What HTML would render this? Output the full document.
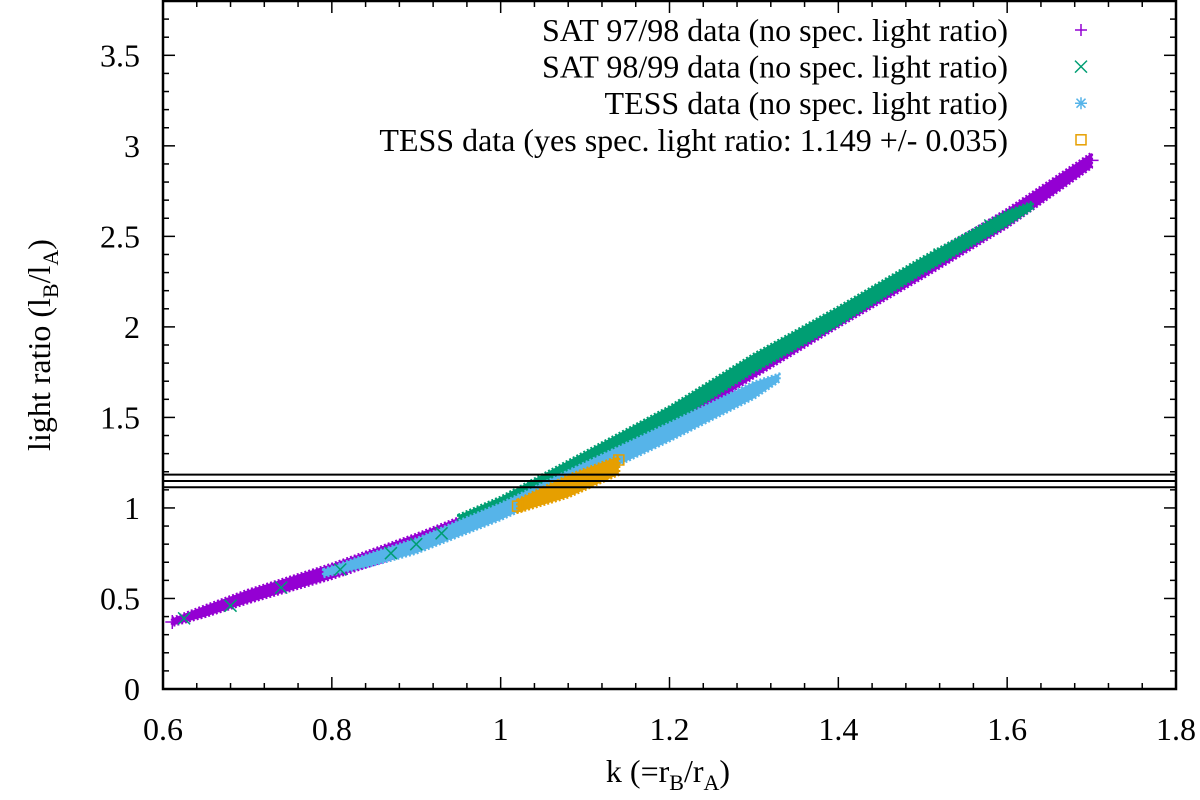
<!DOCTYPE html>
<html><head><meta charset="utf-8"><style>
html,body{margin:0;padding:0;background:#fff;}
svg{display:block;}
svg text{font-family:"Liberation Serif","Times New Roman",Times,"Nimbus Roman","DejaVu Serif","Noto Serif CJK SC",serif;}
</style></head><body>
<svg id="chart" width="1200" height="800" viewBox="0 0 1200 800">
<g id="bands"></g>
<g id="hlines"></g>
<g id="axes"></g>
<g id="legend"></g>
<text x="668" y="782" font-size="32" text-anchor="middle">k (=r<tspan font-size="22" dy="8">B</tspan><tspan dy="-8">/r</tspan><tspan font-size="22" dy="8">A</tspan><tspan dy="-8">)</tspan></text>
<text transform="translate(50,345) rotate(-90)" font-size="32" text-anchor="middle">light ratio (l<tspan font-size="22" dy="8">B</tspan><tspan dy="-8">/l</tspan><tspan font-size="22" dy="8">A</tspan><tspan dy="-8">)</tspan></text>
</svg>
<script>
// ---- data ----
const xTicks = [0.6, 0.8, 1.0, 1.2, 1.4, 1.6, 1.8];
const xTickLabels = ["0.6","0.8","1","1.2","1.4","1.6","1.8"];
const yTicks = [0, 0.5, 1, 1.5, 2, 2.5, 3, 3.5];
const yTickLabels = ["0","0.5","1","1.5","2","2.5","3","3.5"];
const specRatio = [1.114, 1.149, 1.184];

const satA_k = [0.611, 0.65, 0.7, 0.8, 0.9, 1.0, 1.1, 1.2, 1.3, 1.4, 1.5, 1.6, 1.7];
const satA_v = [0.37, 0.43, 0.51, 0.65, 0.81, 0.99, 1.22, 1.48, 1.77, 2.05, 2.32, 2.6, 2.92];
const satA_w = [0.02, 0.03, 0.035, 0.04, 0.045, 0.045, 0.045, 0.045, 0.05, 0.05, 0.05, 0.05, 0.04];

const satB_k = [0.95, 1.0, 1.1, 1.2, 1.3, 1.4, 1.5, 1.6, 1.63];
const satB_v = [0.93, 1.02, 1.26, 1.51, 1.8, 2.06, 2.34, 2.6, 2.67];
const satB_w = [0.03, 0.04, 0.05, 0.05, 0.05, 0.05, 0.045, 0.04, 0.02];
const satB_markK = [0.625, 0.68, 0.74, 0.81, 0.87, 0.9, 0.93, 1.45, 1.52, 1.58];
const satB_markV = [0.39, 0.46, 0.56, 0.66, 0.75, 0.8, 0.86, 2.2, 2.4, 2.56];

const tess_k = [0.79, 0.85, 0.9, 1.0, 1.1, 1.2, 1.3, 1.33];
const tess_v = [0.64, 0.72, 0.79, 0.98, 1.2, 1.42, 1.65, 1.72];
const tess_w = [0.02, 0.035, 0.04, 0.045, 0.05, 0.05, 0.045, 0.02];

const tessY_k = [1.02, 1.08, 1.14];
const tessY_v = [1.01, 1.12, 1.235];
const tessY_w = [0.035, 0.06, 0.05];

// ---- scales ----
const L=163, R=1176, T=1, B=689, XMIN=0.6, XMAX=1.8, YMIN=0, YMAX=3.8;
const X = k => L + (k - XMIN) / (XMAX - XMIN) * (R - L);
const Y = v => B - (v - YMIN) / (YMAX - YMIN) * (B - T);
const NS = "http://www.w3.org/2000/svg";
function mk(tag, attrs, parent){ const e=document.createElementNS(NS,tag); for(const a in attrs) e.setAttribute(a,attrs[a]); parent.appendChild(e); return e; }

const bands = document.getElementById('bands');
function band(ks, vs, ws, color, name){
  let pts = [];
  for(let i=0;i<ks.length;i++) pts.push(X(ks[i])+","+Y(vs[i]+ws[i]));
  for(let i=ks.length-1;i>=0;i--) pts.push(X(ks[i])+","+Y(vs[i]-ws[i]));
  const p = mk('polygon',{points:pts.join(" "),fill:color,stroke:color,'stroke-width':3,'stroke-dasharray':'2 2','stroke-linejoin':'round'},bands);
  
  
}
function plus(g,x,y,s,c){ mk('path',{d:`M${x-s},${y}H${x+s}M${x},${y-s}V${y+s}`,stroke:c,'stroke-width':1.5,fill:'none'},g); }
function cross(g,x,y,s,c){ mk('path',{d:`M${x-s},${y-s}L${x+s},${y+s}M${x-s},${y+s}L${x+s},${y-s}`,stroke:c,'stroke-width':1.5,fill:'none'},g); }
function star(g,x,y,s,c){ plus(g,x,y,s,c); cross(g,x,y,s*0.75,c); }
function sq(g,x,y,s,c){ mk('rect',{x:x-s,y:y-s,width:2*s,height:2*s,stroke:c,'stroke-width':1.5,fill:'none'},g); }

band(satA_k, satA_v, satA_w, '#9400d3', 'sat-97-98-band');
band(satB_k, satB_v, satB_w, '#009e73', 'sat-98-99-band');
band(tess_k, tess_v, tess_w, '#56b4e9', 'tess-band');
band(tessY_k, tessY_v, tessY_w, '#e69f00', 'tess-spec-band');

const mg = mk('g',{},bands);


plus(mg, X(satA_k[0]), Y(satA_v[0]), 7, '#9400d3');
plus(mg, X(satA_k[satA_k.length-1]), Y(satA_v[satA_v.length-1]), 7, '#9400d3');
for(let i=0;i<satB_markK.length;i++) cross(mg, X(satB_markK[i]), Y(satB_markV[i]), 6, '#009e73');
sq(mg, X(tessY_k[0]), Y(tessY_v[0]), 5, '#e69f00');
sq(mg, X(tessY_k[tessY_k.length-1]), Y(tessY_v[tessY_v.length-1]+0.03), 5, '#e69f00');

// horizontal spec lines
const hl = document.getElementById('hlines');
specRatio.forEach(v=>{
  const l = mk('line',{x1:L,x2:R,y1:Y(v),y2:Y(v),stroke:'#000','stroke-width':2},hl);
  
  
});

// axes
const ax = document.getElementById('axes');
for(let i=0;i<=30;i++){
  const k = XMIN + i*0.04, x = X(k), len = (i%5===0)?12:6;
  mk('line',{x1:x,x2:x,y1:B,y2:B-len,stroke:'#000','stroke-width':1.5},ax);
  mk('line',{x1:x,x2:x,y1:T,y2:T+len,stroke:'#000','stroke-width':1.5},ax);
}
for(let i=0;i<=38;i++){
  const v = i*0.1, y = Y(v), len = (i%5===0)?12:6;
  mk('line',{x1:L,x2:L+len,y1:y,y2:y,stroke:'#000','stroke-width':1.5},ax);
  mk('line',{x1:R,x2:R-len,y1:y,y2:y,stroke:'#000','stroke-width':1.5},ax);
}
const fr = mk('rect',{x:L,y:T,width:R-L,height:B-T,fill:'none',stroke:'#000','stroke-width':2.5},ax);


xTicks.forEach((k,i)=>{
  const t = mk('text',{x:X(k),y:740,'font-size':32,'text-anchor':'middle'},ax);
  t.textContent = xTickLabels[i];
  
  
});
yTicks.forEach((v,i)=>{
  const t = mk('text',{x:140,y:Y(v)+11,'font-size':32,'text-anchor':'end'},ax);
  t.textContent = yTickLabels[i];
  
  
});

// legend
const lg = document.getElementById('legend');
const legendLabels = ["SAT 97/98 data (no spec. light ratio)","SAT 98/99 data (no spec. light ratio)","TESS data (no spec. light ratio)","TESS data (yes spec. light ratio: 1.149 +/- 0.035)"];
const legendColors = ['#9400d3','#009e73','#56b4e9','#e69f00'];
const legendSyms = [plus, cross, star, sq];
legendLabels.forEach((s,i)=>{
  const yb = 41 + i*36.6;
  const t = mk('text',{x:1008,y:yb,'font-size':32,'text-anchor':'end'},lg);
  t.textContent = s;
  
  
  legendSyms[i](lg, 1081, yb-11, i===3?5:6, legendColors[i]);
});
</script>
</body></html>
